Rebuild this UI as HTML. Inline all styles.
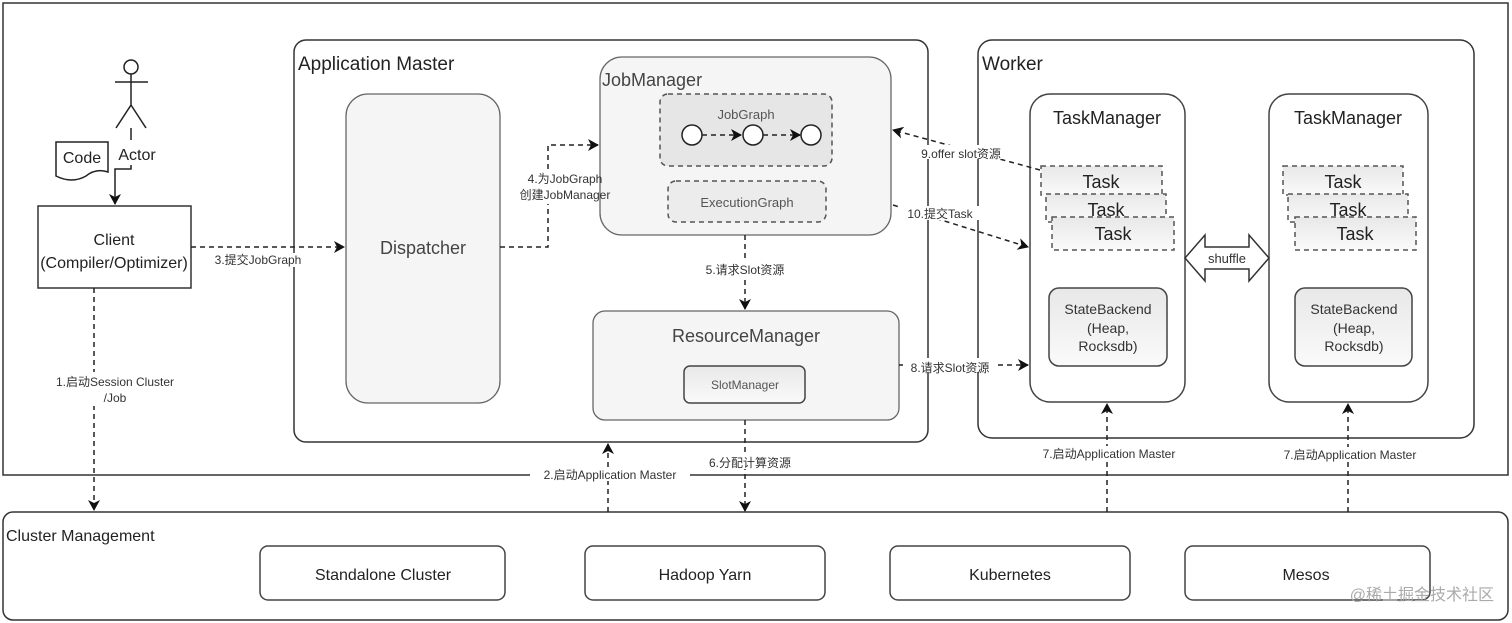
<!DOCTYPE html>
<html><head><meta charset="utf-8"><style>
html,body{margin:0;padding:0;background:#fff;}
svg{display:block;font-family:"Liberation Sans","Noto Sans CJK SC",sans-serif;}
</style></head><body>
<svg width="1512" height="623" viewBox="0 0 1512 623" xmlns="http://www.w3.org/2000/svg">
<defs>
<marker id="a" markerWidth="12" markerHeight="12" refX="10" refY="6" orient="auto" markerUnits="userSpaceOnUse">
<path d="M0,0 L11,6 L0,12 L3,6 Z" fill="#111"/></marker>
<linearGradient id="g" x1="0" y1="0" x2="0" y2="1"><stop offset="0" stop-color="#e8e8e8"/><stop offset="1" stop-color="#fafafa"/></linearGradient>
</defs>
<g fill="none" stroke="#333" stroke-width="1.5">
<rect x="3" y="3" width="1505" height="472"/>
<rect x="3" y="512" width="1505" height="108" rx="10"/>
<rect x="294" y="40" width="634" height="402" rx="12"/>
<rect x="978" y="40" width="496" height="398" rx="14"/>
<rect x="38" y="206" width="153" height="82"/>
</g>
<g stroke="#666" stroke-width="1.3" fill="#f5f5f5">
<rect x="346" y="94" width="154" height="309" rx="22"/>
<rect x="600" y="57" width="291" height="178" rx="22"/>
<rect x="593" y="311" width="306" height="109" rx="12"/>
</g>
<g stroke="#444" stroke-width="1.5" fill="#fff">
<rect x="1030" y="94" width="155" height="308" rx="20"/>
<rect x="1269" y="94" width="159" height="308" rx="20"/>
<rect x="260" y="546" width="245" height="54" rx="8"/>
<rect x="585" y="546" width="240" height="54" rx="8"/>
<rect x="890" y="546" width="240" height="54" rx="8"/>
<rect x="1185" y="546" width="245" height="54" rx="8"/>
</g>
<g stroke="#555" stroke-width="1.5" stroke-dasharray="5,4" fill="#e6e6e6">
<rect x="660" y="94" width="172" height="72" rx="8"/>
<rect x="668" y="181" width="158" height="41" rx="8" fill="#ececec"/>
<rect x="1041" y="166" width="121" height="29" fill="url(#g)"/>
<rect x="1046" y="194" width="120" height="28" fill="url(#g)"/>
<rect x="1052" y="217" width="122" height="33" fill="url(#g)"/>
<rect x="1283" y="166" width="120" height="29" fill="url(#g)"/>
<rect x="1288" y="194" width="120" height="28" fill="url(#g)"/>
<rect x="1295" y="217" width="121" height="33" fill="url(#g)"/>
</g>
<g stroke="#444" stroke-width="1.5" fill="url(#g)">
<rect x="684" y="366" width="121" height="37" rx="6"/>
<rect x="1049" y="288" width="118" height="78" rx="10"/>
<rect x="1295" y="288" width="117" height="78" rx="10"/>
</g>
<g stroke="#222" stroke-width="1.5" fill="#fff">
<circle cx="692" cy="135" r="10"/><circle cx="753" cy="135" r="10"/><circle cx="811" cy="135" r="10"/>
<circle cx="131" cy="67" r="7"/>
</g>
<g stroke="#222" stroke-width="1.5" fill="none">
<path d="M115,82 H148 M131,74 V105 L116,128 M131,105 L146,128"/>
<path d="M56,142 H108 V172 Q96,168 86,176 Q72,184 56,176 Z" fill="#fff"/>
<path d="M1185,258 L1205,235 V247 H1249 V235 L1269,258 L1249,281 V269 H1205 V281 Z" fill="#fff" stroke="#333"/>
<path d="M131,128 V140" />
<path d="M131,165 V169 H115 V204" marker-end="url(#a)"/>
</g>
<g stroke="#222" stroke-width="1.5" fill="none" stroke-dasharray="5,4">
<path d="M702,135 H741" marker-end="url(#a)"/>
<path d="M763,135 H800" marker-end="url(#a)"/>
<path d="M191,247 H344" marker-end="url(#a)"/>
<path d="M500,247 H548 V145 H598" marker-end="url(#a)"/>
<path d="M745,235 V309" marker-end="url(#a)"/>
<path d="M745,420 V511" marker-end="url(#a)"/>
<path d="M608,512 V444" marker-end="url(#a)"/>
<path d="M94,288 V510" marker-end="url(#a)"/>
<path d="M899,365 H1028" marker-end="url(#a)"/>
<path d="M1040,170 L893,130" marker-end="url(#a)"/>
<path d="M893,205 L1028,247" marker-end="url(#a)"/>
<path d="M1107,512 V404" marker-end="url(#a)"/>
<path d="M1348,512 V404" marker-end="url(#a)"/>
</g>
<g fill="#fff">
<rect x="35" y="372" width="150" height="34"/>
<rect x="205" y="253" width="105" height="14"/>
<rect x="508" y="170" width="88" height="34"/>
<rect x="700" y="262" width="90" height="14"/>
<rect x="530" y="467" width="160" height="14"/>
<rect x="695" y="455" width="110" height="14"/>
<rect x="903" y="358" width="95" height="14"/>
<rect x="912" y="145" width="98" height="14"/>
<rect x="900" y="206" width="80" height="14"/>
<rect x="1030" y="446" width="158" height="14"/>
<rect x="1272" y="447" width="156" height="14"/>
</g>
<g fill="#222" font-size="19">
<text x="298" y="70">Application Master</text>
<text x="982" y="70">Worker</text>
</g>
<g fill="#444" font-size="18" text-anchor="middle">
<text x="602" y="86" text-anchor="start">JobManager</text>
<text x="423" y="254">Dispatcher</text>
<text x="746" y="342">ResourceManager</text>
<text x="1107" y="124" fill="#222">TaskManager</text>
<text x="1348" y="124" fill="#222">TaskManager</text>
<text x="1101" y="188" fill="#222">Task</text>
<text x="1106" y="216" fill="#222">Task</text>
<text x="1113" y="240" fill="#222">Task</text>
<text x="1343" y="188" fill="#222">Task</text>
<text x="1348" y="216" fill="#222">Task</text>
<text x="1355" y="240" fill="#222">Task</text>
</g>
<g fill="#222" font-size="16" text-anchor="middle">
<text x="114" y="245">Client</text>
<text x="114" y="268">(Compiler/Optimizer)</text>
<text x="82" y="163">Code</text>
<text x="137" y="160">Actor</text>
<text x="6" y="541" text-anchor="start">Cluster Management</text>
<text x="383" y="580">Standalone Cluster</text>
<text x="705" y="580">Hadoop Yarn</text>
<text x="1010" y="580">Kubernetes</text>
<text x="1306" y="580">Mesos</text>
</g>
<g fill="#555" font-size="13" text-anchor="middle">
<text x="746" y="119">JobGraph</text>
<text x="747" y="207">ExecutionGraph</text>
<text x="745" y="389" font-size="12">SlotManager</text>
<text x="1108" y="314" font-size="14" fill="#333">StateBackend</text>
<text x="1108" y="333" font-size="14" fill="#333">(Heap,</text>
<text x="1108" y="351" font-size="14" fill="#333">Rocksdb)</text>
<text x="1354" y="314" font-size="14" fill="#333">StateBackend</text>
<text x="1354" y="333" font-size="14" fill="#333">(Heap,</text>
<text x="1354" y="351" font-size="14" fill="#333">Rocksdb)</text>
<text x="1227" y="263" fill="#333">shuffle</text>
</g>
<g fill="#333" font-size="12" text-anchor="middle">
<text x="115" y="386">1.启动Session Cluster</text>
<text x="115" y="402">/Job</text>
<text x="258" y="264">3.提交JobGraph</text>
<text x="565" y="183">4.为JobGraph</text>
<text x="565" y="199">创建JobManager</text>
<text x="745" y="274">5.请求Slot资源</text>
<text x="610" y="479">2.启动Application Master</text>
<text x="750" y="467">6.分配计算资源</text>
<text x="950" y="372">8.请求Slot资源</text>
<text x="961" y="158">9.offer slot资源</text>
<text x="940" y="218">10.提交Task</text>
<text x="1109" y="458">7.启动Application Master</text>
<text x="1350" y="459">7.启动Application Master</text>
</g>
<text x="1494" y="600" fill="#aaa" font-size="16" text-anchor="end">@稀土掘金技术社区</text>
</svg>
</body></html>
